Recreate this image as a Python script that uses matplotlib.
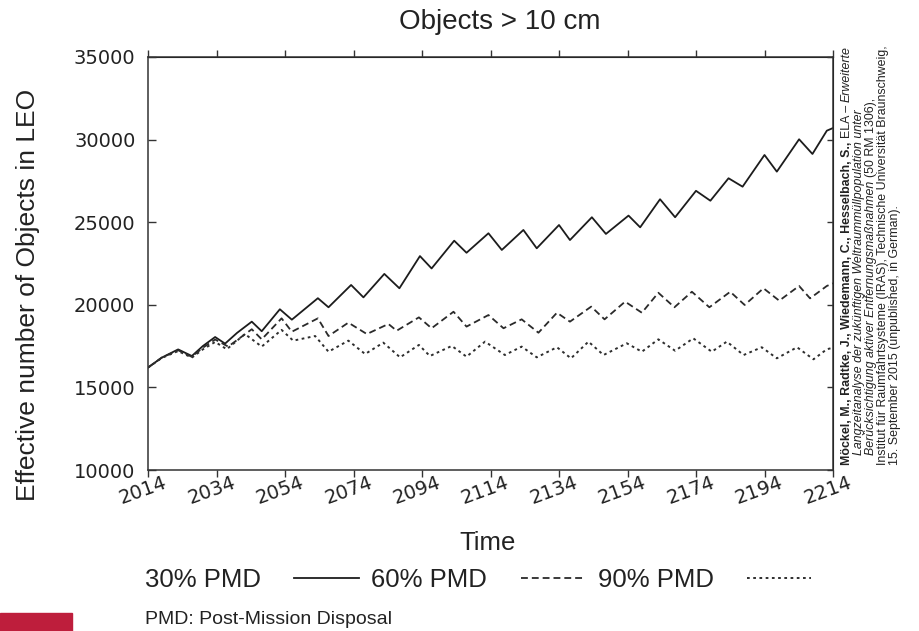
import matplotlib
matplotlib.use("Agg")
import matplotlib.pyplot as plt
from matplotlib.lines import Line2D
from matplotlib.patches import Rectangle
from matplotlib.transforms import ScaledTranslation

plt.rcParams["font.family"] = ["Liberation Sans", "DejaVu Sans"]

# --- data (peaks / troughs of each curve) ---
years_30 = [2014, 2018, 2022.8, 2026.8, 2030, 2033.6, 2036.5, 2040, 2044.3, 2047.2,
            2052.5, 2056, 2063.6, 2066.7, 2073.3, 2076.9, 2083, 2087.4, 2093.4, 2096.8,
            2103.4, 2107, 2113.4, 2117.3, 2123.6, 2127.5, 2134, 2137.2, 2143.6, 2147.7,
            2154.3, 2157.7, 2163.5, 2167.9, 2174, 2178.2, 2183.5, 2187.6, 2194, 2197.6,
            2204.1, 2208, 2212.2, 2214]
pmd_30 = [16200, 16800, 17300, 16900, 17500, 18050, 17650, 18300, 18980, 18400,
          19730, 19100, 20400, 19850, 21200, 20450, 21870, 21000, 22950, 22200,
          23880, 23150, 24330, 23320, 24530, 23420, 24830, 23920, 25300, 24290,
          25400, 24690, 26390, 25300, 26900, 26300, 27660, 27150, 29070, 28060,
          30020, 29130, 30540, 30700]

years_60 = [2014, 2018, 2022.8, 2026.8, 2030, 2033.6, 2037.4, 2044.3, 2047.2, 2053,
            2056, 2063.6, 2066.7, 2072.5, 2077.9, 2084.2, 2086.6, 2093.1, 2096.8, 2103.2,
            2107, 2113.4, 2117.8, 2123.1, 2128, 2133.4, 2137.2, 2143.4, 2147.3, 2153.3,
            2158.2, 2163, 2167.7, 2172.8, 2177.9, 2184, 2188.2, 2193.7, 2198.3, 2204.1,
            2207.3, 2212.2, 2214]
pmd_60 = [16200, 16800, 17250, 16850, 17400, 17900, 17470, 18520, 17910, 19180,
          18370, 19180, 18110, 18920, 18230, 18840, 18430, 19240, 18580, 19580,
          18680, 19380, 18580, 19120, 18310, 19520, 18980, 19890, 19120, 20190,
          19520, 20730, 19850, 20790, 19850, 20790, 19990, 21000, 20250, 21140,
          20390, 21140, 21300]

years_90 = [2014, 2018, 2022.8, 2026.8, 2030, 2033.6, 2037, 2042.3, 2047.2, 2053,
            2056.4, 2062.8, 2066.7, 2072.5, 2077.4, 2082.7, 2087.6, 2093.1, 2096.3, 2102.7,
            2107, 2112.4, 2118.2, 2123.1, 2127.5, 2133.4, 2137.5, 2142.6, 2147, 2153.8,
            2158.2, 2163, 2167.9, 2173.2, 2178.6, 2183, 2187.9, 2193.2, 2197.6, 2203.5,
            2208.3, 2212.2, 2214]
pmd_90 = [16200, 16780, 17200, 16800, 17300, 17750, 17310, 18230, 17470, 18480,
          17830, 18110, 17160, 17830, 17020, 17710, 16820, 17570, 16900, 17510,
          16860, 17770, 16960, 17470, 16820, 17430, 16760, 17770, 16960, 17670,
          17160, 17910, 17220, 17970, 17160, 17770, 16960, 17430, 16760, 17430,
          16700, 17310, 17400]

x_ticks = list(range(2014, 2215, 20))
y_ticks = [10000, 15000, 20000, 25000, 30000, 35000]
series_labels = ["30% PMD", "60% PMD", "90% PMD"]

title = "Objects > 10 cm"
x_label = "Time"
y_label = "Effective number of Objects in LEO"
footnote = "PMD: Post-Mission Disposal"

# citation, one list of (text, style) pieces per rotated line
citation = [
    [("Möckel, M., Radtke, J., Wiedemann, C., Hesselbach, S.,", "bold"),
     ("ELA –", "normal"), ("Erweiterte", "italic")],
    [("Langzeitanalyse der zukünftigen Weltraummüllpopulation unter", "italic")],
    [("Berücksichtigung aktiver Entfernungsmaßnahmen", "italic"),
     ("(50 RM 1306),", "normal")],
    [("Institut für Raumfahrtsysteme (IRAS), Technische Universität Braunschweig,", "normal")],
    [("15. September 2015 (unpublished, in German).", "normal")],
]

W, H = 920, 631
fig = plt.figure(figsize=(W / 100, H / 100), dpi=100)
ax = fig.add_axes([148 / W, 1 - 470 / H, 685 / W, 413 / H])

ink = "#222222"
styles = [
    dict(linestyle="-", color="#1c1c1c", linewidth=1.3),
    dict(linestyle=(0, (3.8, 2.2)), color="#2a2a2a", linewidth=1.3),
    dict(linestyle=(0, (1.4, 1.8)), color="#2e2e2e", linewidth=1.4),
]
for xs, ys, st in zip([years_30, years_60, years_90], [pmd_30, pmd_60, pmd_90], styles):
    ax.plot(xs, ys, **st)

ax.set_xlim(2014, 2214)
ax.set_ylim(10000, 35000)
for sp in ax.spines.values():
    sp.set_color("#333333")
    sp.set_linewidth(1.1)

ax.set_xticks(x_ticks)
ax.set_xticklabels([str(t) for t in x_ticks], rotation=20, ha="center",
                   fontfamily="DejaVu Sans", fontsize=14, color=ink)
ax.set_yticks(y_ticks)
ax.set_yticklabels([str(t) for t in y_ticks], fontfamily="DejaVu Sans",
                   fontsize=14, color=ink)
ax.tick_params(axis="x", direction="out", length=5, width=1, pad=-3, colors="#333333",
               labelcolor=ink)
ax.tick_params(axis="y", direction="in", length=6, width=1, pad=9, colors="#333333",
               labelcolor=ink)
shift = ScaledTranslation(-5 / 100, 0, fig.dpi_scale_trans)
for lab in ax.get_xticklabels():
    lab.set_transform(lab.get_transform() + shift)

top = ax.secondary_xaxis("top")
top.set_xticks(x_ticks)
top.tick_params(direction="out", length=5, width=1, labeltop=False, colors="#333333")
right = ax.secondary_yaxis("right")
right.set_yticks(y_ticks)
right.tick_params(direction="in", length=4, width=1, labelright=False, colors="#333333")

ax.set_xlabel(x_label, fontsize=18.5, color=ink)
ax.xaxis.set_label_coords(0.495, -0.148)
ax.set_ylabel(y_label, fontsize=19, color=ink)
ax.yaxis.set_label_coords(-0.158, 0.424)

fig.text(500 / W, 1 - 22 / H, title, ha="center", va="center", fontsize=20, color=ink)

handles = [Line2D([], [], **st) for st in styles]
fig.legend(handles, series_labels, ncol=3, markerfirst=False, frameon=False,
           fontsize=18.5, handlelength=2.5, handletextpad=1.3, columnspacing=0.5,
           borderpad=0, borderaxespad=0, loc="center left",
           bbox_to_anchor=(145 / W, 1 - 580 / H), labelcolor=ink)

fig.text(145 / W, 1 - 620 / H, footnote, fontsize=14, va="center", color=ink)
fig.patches.append(Rectangle((0, 0), 72 / W, 18 / H, transform=fig.transFigure,
                             color="#BE1E3C", zorder=0))

# rotated citation with mixed bold / italic pieces on each line
renderer = fig.canvas.get_renderer()
cite_fs = 8.9
space = 0.278 * cite_fs * 100 / 72 / H
baselines = [850, 862, 874, 886, 898]
starts = [465, 455, 455, 465, 465]
for line, xb, y0 in zip(citation, baselines, starts):
    y = 1 - y0 / H
    for text, style in line:
        kw = {"weight": "bold"} if style == "bold" else {"style": style}
        t = fig.text(xb / W, y, text, rotation=90, rotation_mode="anchor",
                     ha="left", va="baseline", fontsize=cite_fs, color=ink, **kw)
        y += t.get_window_extent(renderer).height / H + space

fig.savefig("out.png", dpi=100)
